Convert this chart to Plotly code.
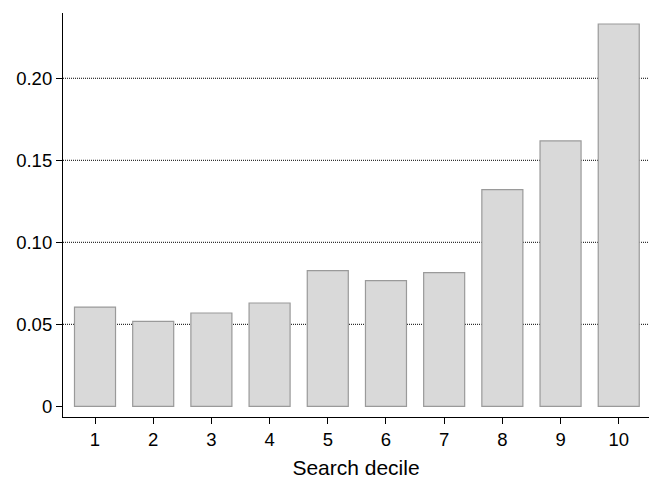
import plotly.graph_objects as go

deciles = [1, 2, 3, 4, 5, 6, 7, 8, 9, 10]
values = [0.0605, 0.0518, 0.0569, 0.0630, 0.0827, 0.0766, 0.0815, 0.1321, 0.1618, 0.2331]
y_ticks = [0, 0.05, 0.10, 0.15, 0.20]
y_ticktext = ["0", "0.05", "0.10", "0.15", "0.20"]
grid_levels = [0.05, 0.10, 0.15, 0.20]
x_title = "Search decile"

fig = go.Figure()
fig.add_trace(go.Bar(
    x=deciles, y=values, width=0.705,
    marker=dict(color="#d9d9d9", line=dict(color="#9a9a9a", width=1.2)),
))

for g in grid_levels:
    fig.add_shape(type="line", xref="paper", yref="y", x0=0, x1=1, y0=g, y1=g,
                  line=dict(color="black", width=1, dash="1px,1px"), layer="below")

font = "Liberation Sans, Arial, Helvetica, sans-serif"
fig.update_layout(
    width=649, height=479,
    margin=dict(l=63, r=0, t=13, b=62),
    paper_bgcolor="white", plot_bgcolor="white",
    showlegend=False,
    font=dict(family=font, color="black", size=18.5),
    xaxis=dict(
        range=[0.45, 10.52], tickvals=deciles, ticktext=[str(d) for d in deciles],
        showline=True, linecolor="black", linewidth=1.2,
        ticks="outside", ticklen=6, tickcolor="black", tickwidth=1.2,
        showgrid=False, zeroline=False,
        tickfont=dict(size=18.5),
        title=dict(text=x_title, font=dict(size=21), standoff=13),
    ),
    yaxis=dict(
        range=[-0.0065, 0.2398], tickvals=y_ticks, ticktext=y_ticktext,
        showline=True, linecolor="black", linewidth=1.2,
        ticks="outside", ticklen=6, tickcolor="black", tickwidth=1.2,
        showgrid=False, zeroline=False,
        tickfont=dict(size=18.5),
    ),
)

fig.write_html("out.html", config={"displayModeBar": False})
with open("out.html", "r", encoding="utf-8") as f:
    html = f.read()
html = html.replace("<body>", "<body style=\"margin:0;padding:0;overflow:hidden\">", 1)
with open("out.html", "w", encoding="utf-8") as f:
    f.write(html)
